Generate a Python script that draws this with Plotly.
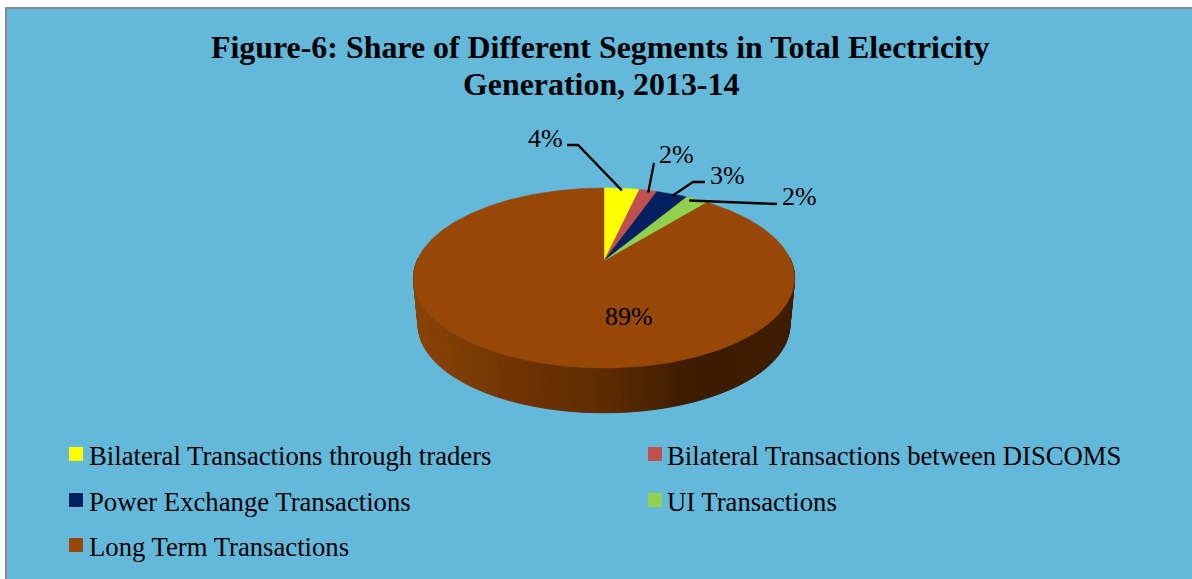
import math
import plotly.graph_objects as go

# ---- data ----
categories = ["Bilateral Transactions through traders", "Bilateral Transactions between DISCOMS",
              "Power Exchange Transactions", "UI Transactions", "Long Term Transactions"]
shares = [3.6, 1.8, 3.2, 2.3, 89.1]
colors = ["#FFFF00", "#C0504D", "#002060", "#92D050", "#974706"]
title_lines = ["Figure-6: Share of Different Segments in Total Electricity", "Generation, 2013-14"]

W, H = 1192, 579
SERIF = "Liberation Serif"

# pie projection: a circular disc seen in perspective
CX, CY = 604, 261          # where the disc's centre lands
GX, GY, K = 187.2, 86.8, 0.189
DEPTH = 47
BOTTOM_SCALE = 0.975


def top_pt(t):
    """t = radians clockwise from the top of the disc."""
    d = 1 + K * math.cos(t)
    return CX + GX * math.sin(t) / d, CY - GY * math.cos(t) / d


def bottom_pt(t):
    x, y = top_pt(t)
    return CX + (x - CX) * BOTTOM_SCALE, 278 + (y - 278) * BOTTOM_SCALE + DEPTH


def mix(c1, c2, f):
    return "rgb(%d,%d,%d)" % tuple(round(a + (b - a) * f) for a, b in zip(c1, c2))


def wall_colour(x):
    """horizontal shading of the side wall"""
    stops = [(413, (0x8A, 0x43, 0x05)), (520, (0x6E, 0x33, 0x03)), (610, (0x5C, 0x2B, 0x01)),
             (690, (0x3C, 0x1B, 0x00)), (795, (0x3E, 0x1C, 0x00))]
    for (x0, c0), (x1, c1) in zip(stops, stops[1:]):
        if x <= x1:
            return mix(c0, c1, max(0, (x - x0) / (x1 - x0)))
    return mix(stops[-1][1], stops[-1][1], 0)


fig = go.Figure()

# side wall: front half of the disc, in thin strips
N = 90
t0, t1 = math.radians(88), math.radians(272)
for i in range(N):
    a = t0 + (t1 - t0) * i / N
    b = t0 + (t1 - t0) * (i + 1) / N
    p = [top_pt(a), top_pt(b), bottom_pt(b), bottom_pt(a)]
    col = wall_colour((p[0][0] + p[1][0]) / 2)
    fig.add_trace(go.Scatter(x=[q[0] for q in p] + [p[0][0]], y=[q[1] for q in p] + [p[0][1]],
                             mode="lines", fill="toself", fillcolor=col,
                             line=dict(color=col, width=1), hoverinfo="skip", showlegend=False))

# top face slices, from the shares
total = sum(shares)
cum = 0
mids = []
for name, val, col in zip(categories, shares, colors):
    a = cum / total * 2 * math.pi
    cum += val
    b = cum / total * 2 * math.pi
    mids.append((a + b) / 2)
    n = max(4, int(val * 4))
    pts = [(CX, CY)] + [top_pt(a + (b - a) * j / n) for j in range(n + 1)] + [(CX, CY)]
    fig.add_trace(go.Scatter(x=[q[0] for q in pts], y=[q[1] for q in pts], mode="lines", fill="toself",
                             fillcolor=col, line=dict(color=col, width=0.5), name=name,
                             text=[f"{val:.0f}%"] * len(pts), hoverinfo="name+text", showlegend=False))

# value labels and leader lines
label_pos = [(545, 138), (676, 154), (727, 175), (799, 196), (629, 316)]
leaders = [[(578, 145), (567, 145)], [(654, 163)], [(693, 182), (705, 182)], [(763, 204), (777, 204)], []]
anchor_shift = [(0, 0), (0, 0), (0, 0), (-8, -1), None]
annotations = []
for i, (val, pos, lead) in enumerate(zip(shares, label_pos, leaders)):
    annotations.append(dict(x=pos[0], y=pos[1], text=f"{val / total * 100:.0f}%", showarrow=False,
                            xanchor="center", yanchor="middle", font=dict(family=SERIF, size=26, color="black")))
    if lead:
        sx, sy = top_pt(mids[i])
        dx, dy = anchor_shift[i]
        pts = [(sx + dx, sy + dy + 2)] + lead
        fig.add_trace(go.Scatter(x=[q[0] for q in pts], y=[q[1] for q in pts], mode="lines",
                                 line=dict(color="black", width=2.3), hoverinfo="skip", showlegend=False))

# legend
legend_cols = [76, 655]
legend_rows = [454, 500, 545]
slots = [(0, 0), (1, 0), (0, 1), (1, 1), (0, 2)]
for name, col, (c, r) in zip(categories, colors, slots):
    fig.add_trace(go.Scatter(x=[legend_cols[c]], y=[legend_rows[r]], mode="markers",
                             marker=dict(symbol="square", size=14, color=col), hoverinfo="skip", showlegend=False))
    annotations.append(dict(x=legend_cols[c] + 11 - c * 0.9, y=legend_rows[r] + 1.5, text=name, showarrow=False,
                            xanchor="left", yanchor="middle", font=dict(family=SERIF, size=26.7, color="black")))

# title
for line, y in zip(title_lines, [47.5, 84.5]):
    annotations.append(dict(x=600.5, y=y, text=f"<b>{line}</b>", showarrow=False, xanchor="center", yanchor="middle",
                            font=dict(family=SERIF, size=31.9, color="black")))

fig.update_layout(
    width=W, height=H, margin=dict(l=0, r=0, t=0, b=0), paper_bgcolor="white", plot_bgcolor="white",
    showlegend=False, annotations=annotations,
    xaxis=dict(range=[0, W], visible=False, fixedrange=True),
    yaxis=dict(range=[H, 0], visible=False, fixedrange=True),
    shapes=[dict(type="rect", layer="below", x0=6, y0=8, x1=W + 20, y1=H + 20,
                 fillcolor="#64B9DB", line=dict(color="#8C8C8C", width=2))],
)

fig.write_html("out.html", config={"displayModeBar": False},
               post_script="document.body.style.margin='0';document.body.style.overflow='hidden';")
